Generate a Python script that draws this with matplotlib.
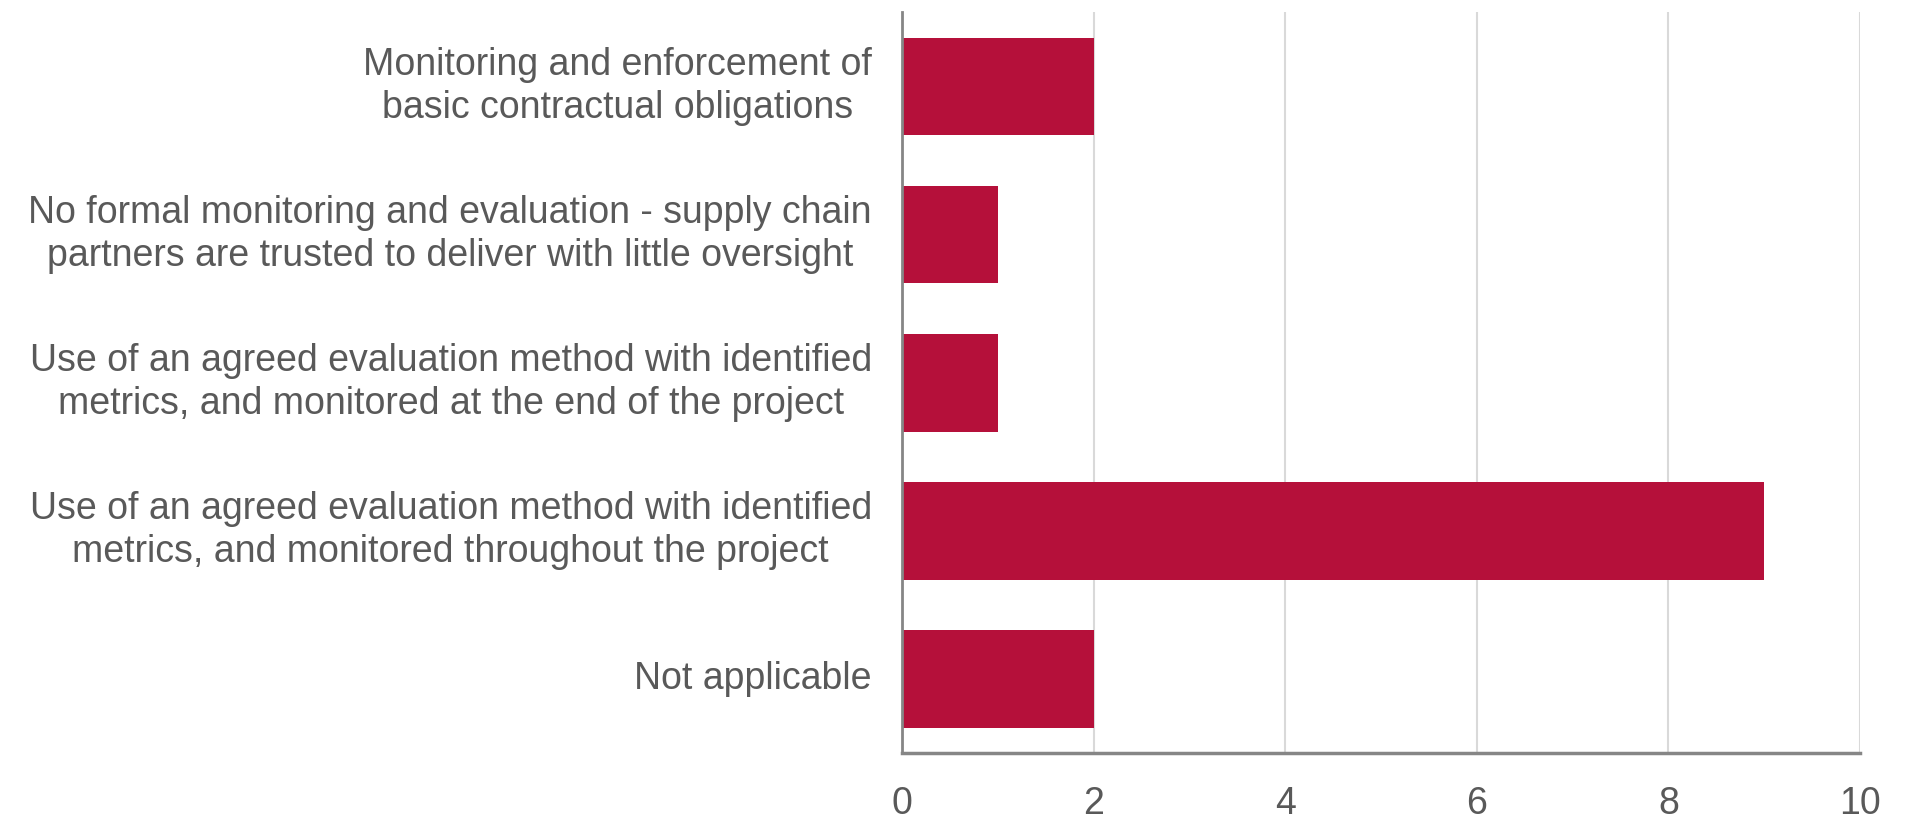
import matplotlib.pyplot as plt
from matplotlib import font_manager

# Data
categories = [
    "Monitoring and enforcement of\nbasic contractual obligations",
    "No formal monitoring and evaluation - supply chain\npartners are trusted to deliver with little oversight",
    "Use of an agreed evaluation method with identified\nmetrics, and monitored at the end of the project",
    "Use of an agreed evaluation method with identified\nmetrics, and monitored throughout the project",
    "Not applicable",
]
counts = [2, 1, 1, 9, 2]
xticks = [0, 2, 4, 6, 8, 10]

names = {f.name for f in font_manager.fontManager.ttflist}
font = "Liberation Sans Narrow" if "Liberation Sans Narrow" in names else "Liberation Sans"
plt.rcParams['font.family'] = [font, 'DejaVu Sans']

text_col = '#595959'
bar_col = '#B5103A'

fig = plt.figure(figsize=(19.2, 8.24), dpi=100)
ax = fig.add_axes([0.470, 0.086, 0.4987, 0.899])

ypos = list(range(len(categories)))
ax.barh(ypos, counts, height=0.66, color=bar_col, zorder=3)
ax.set_ylim(len(categories) - 0.5, -0.5)
ax.set_xlim(0, 10)
ax.set_xticks(xticks)
ax.set_xticklabels([str(t) for t in xticks])
ax.set_yticks(ypos)
ax.set_yticklabels(categories, linespacing=1.25)

ax.grid(axis='x', color='#D9D9D9', linewidth=1.5, zorder=0)
for s in ['top', 'right']:
    ax.spines[s].set_visible(False)
ax.spines['left'].set_color('#868686')
ax.spines['left'].set_linewidth(2)
ax.spines['bottom'].set_color('#868686')
ax.spines['bottom'].set_linewidth(2.5)
ax.spines['left'].set_zorder(4)

ax.tick_params(axis='x', length=0, pad=24, labelsize=27, labelcolor=text_col)
ax.tick_params(axis='y', length=0, pad=22, labelsize=27, labelcolor=text_col)
for lab in ax.get_yticklabels():
    lab.set_horizontalalignment('right')
    lab.set_verticalalignment('center')
    lab.set_multialignment('center')

fig.savefig('out.png', dpi=100)
